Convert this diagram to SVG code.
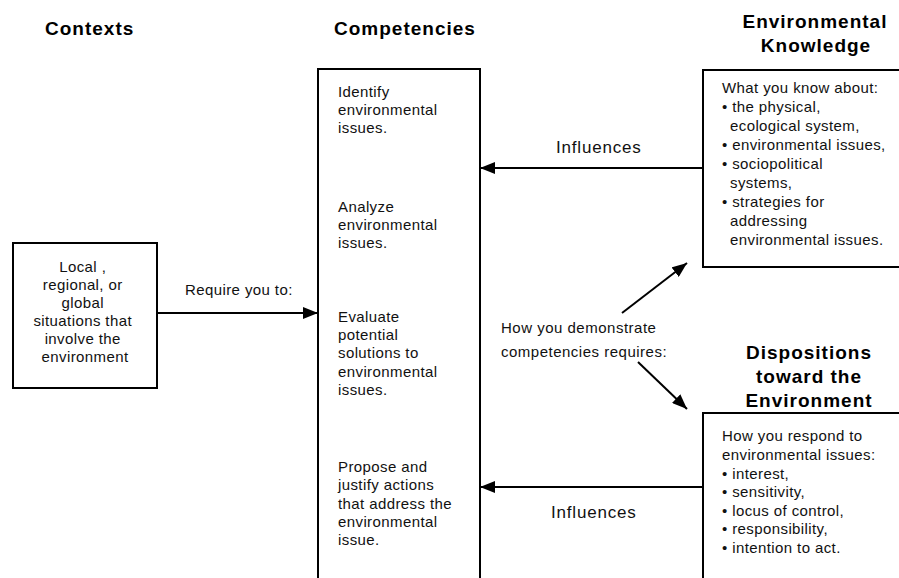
<svg xmlns="http://www.w3.org/2000/svg" width="899" height="578" viewBox="0 0 899 578">
<defs>
<style>
.box{fill:#fff;stroke:#000;stroke-width:2}
.hd{font-family:"Liberation Sans",Arial,sans-serif;font-weight:bold;font-size:19px;letter-spacing:1px;fill:#000}
.tx{font-family:"Liberation Sans",Arial,sans-serif;font-size:15px;letter-spacing:0.4px;fill:#111}
.lb{font-family:"Liberation Sans",Arial,sans-serif;font-size:17px;letter-spacing:0.8px;fill:#111}
.md{font-family:"Liberation Sans",Arial,sans-serif;font-size:15px;letter-spacing:0.5px;fill:#111}
.ln{stroke:#000;stroke-width:2;fill:none}
</style>
<marker id="ah" markerUnits="userSpaceOnUse" markerWidth="15" markerHeight="12" refX="15" refY="6" orient="auto">
<path d="M0,0 L15,6 L0,12 z" fill="#000"/>
</marker>
</defs>
<rect width="899" height="578" fill="#fff"/>

<g id="headers">
<text class="hd" x="45" y="35">Contexts</text>
<text class="hd" x="334" y="35" letter-spacing="1.4">Competencies</text>
<text class="hd" x="815" y="28" text-anchor="middle">Environmental</text>
<text class="hd" x="816" y="52" text-anchor="middle">Knowledge</text>
<text class="hd" x="809" y="359" text-anchor="middle">Dispositions</text>
<text class="hd" x="809" y="383" text-anchor="middle">toward the</text>
<text class="hd" x="809" y="407" text-anchor="middle">Environment</text>
</g>

<g id="contexts">
<rect class="box" x="13" y="243" width="144" height="145"/>
<text class="tx" text-anchor="middle">
<tspan x="85" y="272">Local ,</tspan>
<tspan x="85" y="290">regional, or</tspan>
<tspan x="85" y="308">global</tspan>
<tspan x="85" y="326">situations that</tspan>
<tspan x="85" y="344">involve the</tspan>
<tspan x="85" y="362">environment</tspan>
</text>
</g>

<g id="competencies">
<rect class="box" x="318" y="69" width="162" height="540"/>
<text class="tx">
<tspan x="338" y="97">Identify</tspan>
<tspan x="338" y="115">environmental</tspan>
<tspan x="338" y="133">issues.</tspan>
<tspan x="338" y="212">Analyze</tspan>
<tspan x="338" y="230">environmental</tspan>
<tspan x="338" y="248">issues.</tspan>
<tspan x="338" y="322">Evaluate</tspan>
<tspan x="338" y="340">potential</tspan>
<tspan x="338" y="358">solutions to</tspan>
<tspan x="338" y="377">environmental</tspan>
<tspan x="338" y="395">issues.</tspan>
<tspan x="338" y="472">Propose and</tspan>
<tspan x="338" y="490">justify actions</tspan>
<tspan x="338" y="509">that address the</tspan>
<tspan x="338" y="527">environmental</tspan>
<tspan x="338" y="545">issue.</tspan>
</text>
</g>

<g id="knowledge">
<rect class="box" x="703" y="70" width="220" height="197"/>
<text class="tx">
<tspan x="722" y="93">What you know about:</tspan>
<tspan x="722" y="112">• the physical,</tspan>
<tspan x="730" y="131">ecological system,</tspan>
<tspan x="722" y="150">• environmental issues,</tspan>
<tspan x="722" y="169">• sociopolitical</tspan>
<tspan x="730" y="188">systems,</tspan>
<tspan x="722" y="207">• strategies for</tspan>
<tspan x="730" y="226">addressing</tspan>
<tspan x="730" y="245">environmental issues.</tspan>
</text>
</g>

<g id="dispositions">
<rect class="box" x="703" y="413" width="220" height="200"/>
<text class="tx">
<tspan x="722" y="441">How you respond to</tspan>
<tspan x="722" y="460">environmental issues:</tspan>
<tspan x="722" y="479">• interest,</tspan>
<tspan x="722" y="497">• sensitivity,</tspan>
<tspan x="722" y="516">• locus of control,</tspan>
<tspan x="722" y="534">• responsibility,</tspan>
<tspan x="722" y="553">• intention to act.</tspan>
</text>
</g>

<g id="connectors">
<line class="ln" x1="157" y1="313" x2="318" y2="313" marker-end="url(#ah)"/>
<text class="tx" x="185" y="295">Require you to:</text>
<line class="ln" x1="703" y1="168" x2="480" y2="168" marker-end="url(#ah)"/>
<text class="lb" x="556" y="153">Influences</text>
<line class="ln" x1="703" y1="487" x2="480" y2="487" marker-end="url(#ah)"/>
<text class="lb" x="551" y="518">Influences</text>
<line class="ln" x1="622" y1="313" x2="687" y2="263" marker-end="url(#ah)"/>
<line class="ln" x1="638" y1="362" x2="687" y2="409" marker-end="url(#ah)"/>
<text class="md">
<tspan x="501" y="333">How you demonstrate</tspan>
<tspan x="501" y="357">competencies requires:</tspan>
</text>
</g>
</svg>
